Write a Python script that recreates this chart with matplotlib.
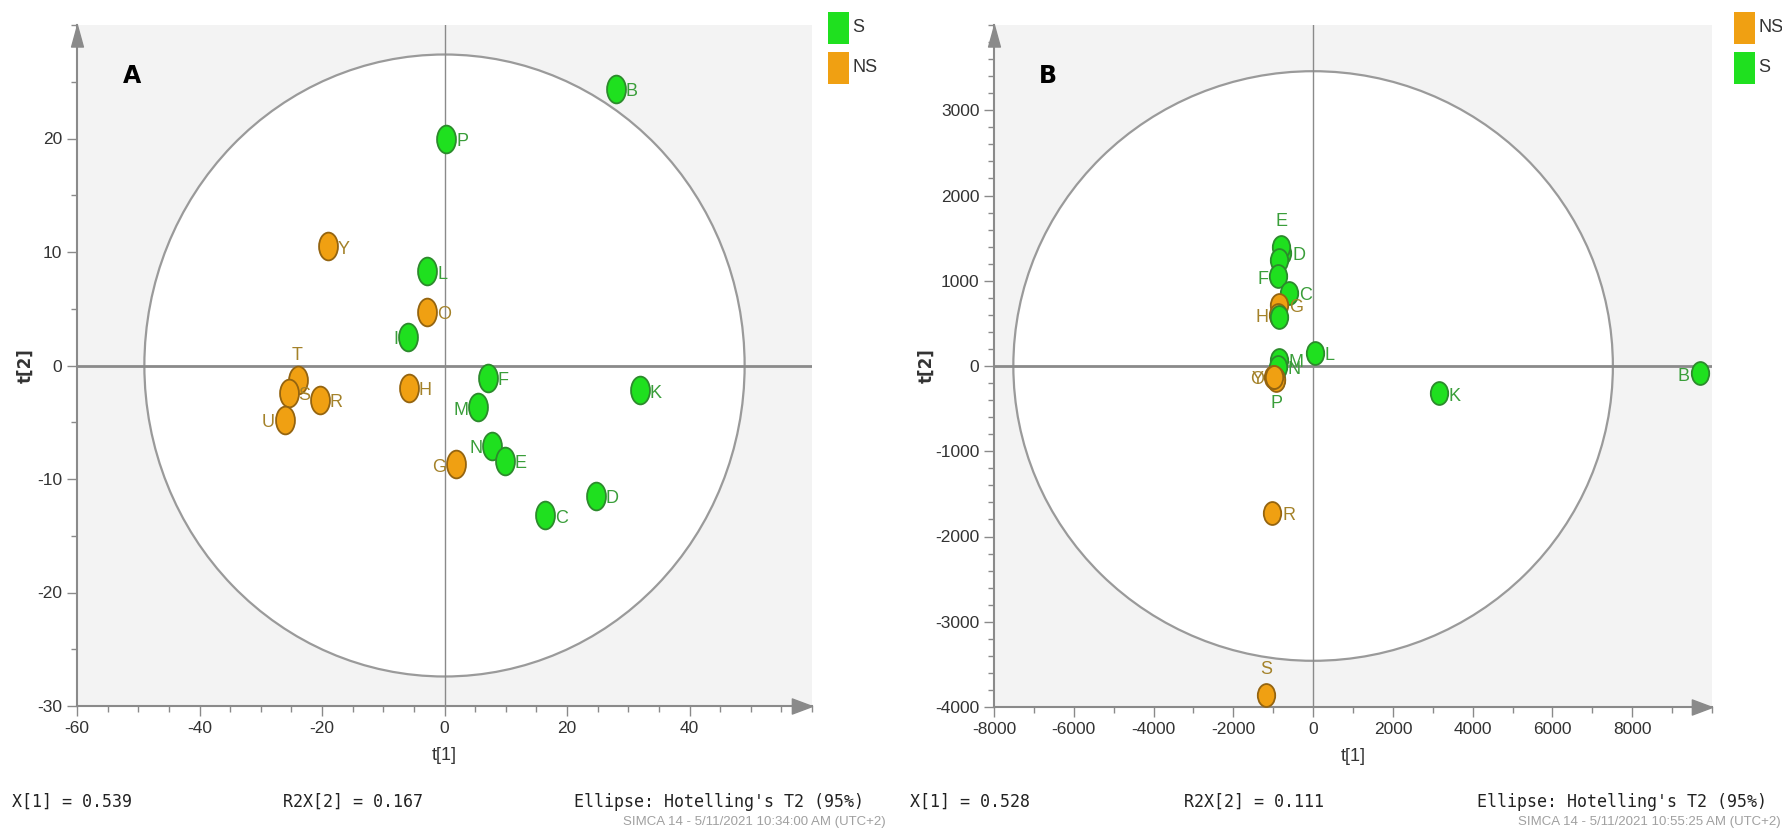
import numpy as np
import matplotlib
matplotlib.use("Agg")
import matplotlib.pyplot as plt
from matplotlib.path import Path
from matplotlib.patches import Ellipse, Rectangle
from matplotlib.ticker import MultipleLocator

plt.rcParams['font.family'] = ['Liberation Sans', 'DejaVu Sans']
plt.rcParams['axes.unicode_minus'] = False

# ---- score plot A (t1 / t2) ----
names_a = ['B', 'P', 'L', 'I', 'F', 'M', 'K', 'N', 'E', 'D', 'C',
           'Y', 'O', 'T', 'S', 'R', 'U', 'H', 'G']
t1_a = [28.0, 0.3, -2.8, -6.0, 7.1, 5.5, 31.9, 7.8, 9.9, 24.7, 16.4,
        -19.0, -2.8, -24.0, -25.4, -20.4, -26.1, -5.8, 1.8]
t2_a = [24.4, 20.0, 8.3, 2.5, -1.1, -3.7, -2.2, -7.1, -8.4, -11.5, -13.2,
        10.5, 4.7, -1.3, -2.4, -3.0, -4.8, -2.0, -8.7]
group_a = ['S'] * 11 + ['NS'] * 8
side_a = ['r', 'r', 'r', 'l', 'r', 'l', 'r', 'l', 'r', 'r', 'r',
          'r', 'r', 't', 'r', 'r', 'l', 'r', 'l']
ell_a = (49.0, 27.4)
stats_a = ['X[1] = 0.539', 'R2X[2] = 0.167', "Ellipse: Hotelling's T2 (95%)"]
stamp_a = 'SIMCA 14 - 5/11/2021 10:34:00 AM (UTC+2)'

# ---- score plot B ----
names_b = ['B', 'K', 'L', 'D', 'E', 'I', 'F', 'C', 'G', 'H', 'A',
           'M', 'N', 'P', 'R', 'S', 'T', 'U', 'O', 'Y']
t1_b = [9690, 3155, 40, -770, -800, -846, -870, -600, -846, -870, -855,
        -850, -880, -920, -1020, -1170, -960, -940, -995, -990]
t2_b = [-85, -320, 150, 1330, 1400, 1240, 1050, 860, 720, 600, 580,
        70, -10, -150, -1723, -3856, -140, -170, -125, -130]
group_b = ['S', 'S', 'S', 'S', 'S', 'S', 'S', 'S', 'NS', 'NS', 'S',
           'S', 'S', 'S', 'NS', 'NS', 'NS', 'NS', 'NS', 'NS']
side_b = ['l', 'r', 'r', 'r', 't', None, 'l', 'r', 'r', 'l', None,
          'r', 'r', 'b', 'r', 't', None, None, 'l', 'l']
ell_b = (7515, 3458)
stats_b = ['X[1] = 0.528', 'R2X[2] = 0.111', "Ellipse: Hotelling's T2 (95%)"]
stamp_b = 'SIMCA 14 - 5/11/2021 10:55:25 AM (UTC+2)'

fill = {'S': '#1fe01f', 'NS': '#f0a012'}
edge = {'S': '#2c8a2c', 'NS': '#946410'}
txtc = {'S': '#3a9e3a', 'NS': '#a4822a'}

circ = Path.unit_circle()
up_head = Path([(0, 0), (-0.55, -2), (0.55, -2), (0, 0)],
               [Path.MOVETO, Path.LINETO, Path.LINETO, Path.CLOSEPOLY])
right_head = Path([(0, 0), (-2, 0.75), (-2, -0.75), (0, 0)],
                  [Path.MOVETO, Path.LINETO, Path.LINETO, Path.CLOSEPOLY])

offsets = {'r': (7, -2, 'left', 'center'), 'l': (-7, -2, 'right', 'center'),
           't': (0, 12, 'center', 'bottom'), 'b': (0, -12, 'center', 'top')}


def score_plot(ax, names, t1, t2, groups, sides, ell, xlim, ylim,
               xmaj, xmin, ymaj, ymin, ms, squeeze, letter, ylab_x):
    dot = Path(circ.vertices * [squeeze, 1.0], circ.codes)
    ax.set_facecolor('#f3f3f3')
    ax.add_patch(Ellipse((0, 0), 2 * ell[0], 2 * ell[1], facecolor='white',
                         edgecolor='#9a9a9a', lw=1.6, zorder=1))
    ax.axhline(0, color='#8a8a8a', lw=2.0, zorder=2)
    ax.axvline(0, color='#8a8a8a', lw=1.0, zorder=2)

    for i, n in enumerate(names):
        g = groups[i]
        ax.plot(t1[i], t2[i], marker=dot, ms=ms, mfc=fill[g], mec=edge[g],
                mew=1.3, ls='none', zorder=3 + i * 0.01)
        if sides[i] is None:
            continue
        dx, dy, ha, va = offsets[sides[i]]
        ax.annotate(n, (t1[i], t2[i]), xytext=(dx, dy),
                    textcoords='offset points', ha=ha, va=va,
                    fontsize=13, color=txtc[g], zorder=5)

    for s in ['top', 'right']:
        ax.spines[s].set_visible(False)
    for s in ['left', 'bottom']:
        ax.spines[s].set_color('#8a8a8a')
        ax.spines[s].set_linewidth(1.5)
    ax.plot(0, 1, marker=up_head, ms=31, color='#8a8a8a',
            transform=ax.transAxes, clip_on=False, zorder=6)
    ax.plot(1, 0, marker=right_head, ms=29, color='#8a8a8a',
            transform=ax.transAxes, clip_on=False, zorder=6)

    ax.xaxis.set_major_locator(MultipleLocator(xmaj))
    ax.xaxis.set_minor_locator(MultipleLocator(xmin))
    ax.yaxis.set_major_locator(MultipleLocator(ymaj))
    ax.yaxis.set_minor_locator(MultipleLocator(ymin))
    ax.set_xlim(*xlim)
    ax.set_ylim(*ylim)
    # no labels past the arrow heads
    ax.set_xticks([v for v in ax.get_xticks() if xlim[0] <= v < xlim[1]])
    ax.set_yticks([v for v in ax.get_yticks() if ylim[0] <= v < ylim[1]])
    ax.set_xlim(*xlim)
    ax.set_ylim(*ylim)
    ax.tick_params(which='major', length=7, width=1, color='#8a8a8a',
                   labelsize=12.5, labelcolor='#333333')
    ax.tick_params(which='minor', length=4, width=1, color='#8a8a8a')

    ax.set_xlabel('t[1]', fontsize=13, color='#333333', labelpad=8)
    ax.set_ylabel('t[2]', fontsize=12, color='#333333', fontweight='bold',
                  family='DejaVu Sans')
    ax.yaxis.set_label_coords(ylab_x, 0.5)
    ax.text(0.075, 0.925, letter, transform=ax.transAxes, fontsize=17,
            fontweight='bold', family='DejaVu Sans', ha='center', va='center')


fig = plt.figure(figsize=(17.82, 8.31), dpi=100)
W, H = 1782, 831

axA = fig.add_axes([77 / W, 125 / H, 735 / W, 681 / H])
score_plot(axA, names_a, t1_a, t2_a, group_a, side_a, ell_a,
           (-60, 60), (-30, 30), 20, 5, 10, 5, 20, 0.68, 'A', -0.058)

axB = fig.add_axes([994 / W, 124 / H, 718 / W, 682 / H])
score_plot(axB, names_b, t1_b, t2_b, group_b, side_b, ell_b,
           (-8000, 10000), (-4000, 4000), 2000, 1000, 1000, 200, 16.5, 0.76, 'B',
           -0.082)


def legend_box(x, entries):
    tops = [12, 52]
    for (lab, g), top in zip(entries, tops):
        fig.patches.append(Rectangle((x / W, 1 - (top + 32) / H), 21 / W, 32 / H,
                                     facecolor=fill[g], edgecolor='none',
                                     transform=fig.transFigure))
        fig.text((x + 24) / W, 1 - (top + 16) / H, lab, fontsize=13,
                 ha='left', va='center', color='#333333')


legend_box(828, [('S', 'S'), ('NS', 'NS')])
legend_box(1734, [('NS', 'NS'), ('S', 'S')])

for xs, stats, stamp, stamp_right in [((12, 283, 574), stats_a, stamp_a, 886),
                                      ((910, 1184, 1477), stats_b, stamp_b, 1781)]:
    for x, s in zip(xs, stats):
        fig.text(x / W, 1 - 802 / H, s, fontsize=12, family='DejaVu Sans Mono',
                 ha='left', va='center', color='#222222')
    fig.text(stamp_right / W, 1 - 822 / H, stamp, fontsize=9.5,
             ha='right', va='center', color='#a0a0a0')

fig.savefig('out.png', dpi=100, facecolor='white')
